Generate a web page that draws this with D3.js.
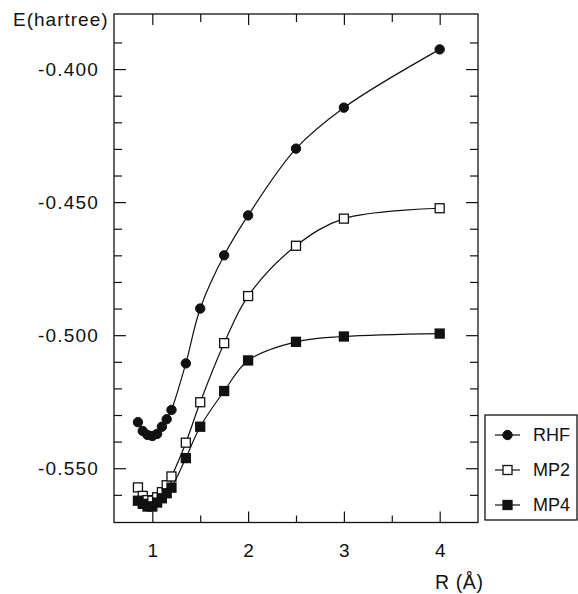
<!DOCTYPE html>
<html>
<head>
<meta charset="utf-8">
<script src="https://cdn.jsdelivr.net/npm/d3@7"></script>
<style>
  body { margin: 0; background: #fff; }
  text { font-family: "Liberation Sans", Arial, Helvetica, sans-serif; fill: #111; }
</style>
</head>
<body>
<div id="chart"></div>
<script>
// bond length R (Å)
const rhfR = [0.85, 0.9, 0.95, 1.0, 1.05, 1.1, 1.15, 1.2, 1.35, 1.5, 1.75, 2.0, 2.5, 3.0, 4.0];
const rhfE = [-0.5327, -0.5360, -0.5375, -0.5379, -0.5371, -0.5344, -0.5316, -0.5281, -0.5106, -0.4900, -0.4700, -0.4550, -0.4299, -0.4145, -0.3926];

const mp2R = [0.85, 0.9, 0.95, 1.0, 1.05, 1.1, 1.15, 1.2, 1.35, 1.5, 1.75, 2.0, 2.5, 3.0, 4.0];
const mp2E = [-0.5572, -0.5604, -0.5620, -0.5622, -0.5609, -0.5590, -0.5564, -0.5531, -0.5404, -0.5252, -0.5030, -0.4853, -0.4664, -0.4562, -0.4523];

const mp4R = [0.85, 0.9, 0.95, 1.0, 1.05, 1.1, 1.15, 1.2, 1.35, 1.5, 1.75, 2.0, 2.5, 3.0, 4.0];
const mp4E = [-0.5622, -0.5634, -0.5644, -0.5644, -0.5629, -0.5613, -0.5594, -0.5573, -0.5462, -0.5344, -0.5210, -0.5095, -0.5025, -0.5005, -0.4994];

const xMajor = [1, 2, 3, 4];
const xMinor = [1.5, 2.5, 3.5];
const yMajor = [-0.55, -0.50, -0.45, -0.40];
const yMinor = [-0.56, -0.54, -0.53, -0.52, -0.51, -0.49, -0.48, -0.47, -0.46, -0.44, -0.43, -0.42, -0.41, -0.39];

const series = [
  { name: 'RHF', R: rhfR, E: rhfE, symbol: 'circle', fill: '#111' },
  { name: 'MP2', R: mp2R, E: mp2E, symbol: 'square', fill: '#fff' },
  { name: 'MP4', R: mp4R, E: mp4E, symbol: 'square', fill: '#111' }
];

const width = 578, height = 594;
const plot = { left: 114, right: 478, top: 14, bottom: 522.5 };

const svg = d3.select('#chart').append('svg')
  .attr('width', width)
  .attr('height', height);

const x = d3.scaleLinear().domain([0.6, 4.4]).range([plot.left, plot.right]);
const y = d3.scaleLinear().domain([-0.5704, -0.3793]).range([plot.bottom, plot.top]);

// frame
svg.append('rect')
  .attr('x', plot.left).attr('y', plot.top)
  .attr('width', plot.right - plot.left)
  .attr('height', plot.bottom - plot.top)
  .attr('fill', 'none')
  .attr('stroke', '#111')
  .attr('stroke-width', 1.3);

function styleAxis(g) {
  g.select('.domain').remove();
  g.selectAll('line').attr('stroke', '#111').attr('stroke-width', 1.2);
  g.selectAll('text').attr('font-size', 19).attr('fill', '#111')
    .attr('font-family', '"Liberation Sans", Arial, sans-serif');
}

// left axis, inward ticks
svg.append('g').attr('transform', `translate(${plot.left},0)`)
  .call(d3.axisLeft(y).tickValues(yMajor).tickSize(-12).tickPadding(15)
    .tickFormat(d => d.toFixed(3)))
  .call(styleAxis)
  .selectAll('text').attr('letter-spacing', 1.2);
svg.append('g').attr('transform', `translate(${plot.left},0)`)
  .call(d3.axisLeft(y).tickValues(yMinor).tickSize(-8).tickFormat(''))
  .call(styleAxis);

// right axis
svg.append('g').attr('transform', `translate(${plot.right},0)`)
  .call(d3.axisRight(y).tickValues(yMajor).tickSize(-12).tickFormat(''))
  .call(styleAxis);
svg.append('g').attr('transform', `translate(${plot.right},0)`)
  .call(d3.axisRight(y).tickValues(yMinor).tickSize(-8).tickFormat(''))
  .call(styleAxis);

// bottom axis
svg.append('g').attr('transform', `translate(0,${plot.bottom})`)
  .call(d3.axisBottom(x).tickValues(xMajor).tickSize(-11).tickPadding(21)
    .tickFormat(d3.format('d')))
  .call(styleAxis);
svg.append('g').attr('transform', `translate(0,${plot.bottom})`)
  .call(d3.axisBottom(x).tickValues(xMinor).tickSize(-7).tickFormat(''))
  .call(styleAxis);

// top axis
svg.append('g').attr('transform', `translate(0,${plot.top})`)
  .call(d3.axisTop(x).tickValues(xMajor).tickSize(-11).tickFormat(''))
  .call(styleAxis);
svg.append('g').attr('transform', `translate(0,${plot.top})`)
  .call(d3.axisTop(x).tickValues(xMinor).tickSize(-8).tickFormat(''))
  .call(styleAxis);

// axis titles
svg.append('text')
  .attr('x', 13).attr('y', 26)
  .attr('font-size', 19)
  .attr('letter-spacing', 1)
  .text('E(hartree)');

svg.append('text')
  .attr('x', 435).attr('y', 589)
  .attr('font-size', 19.5)
  .attr('letter-spacing', 0.6)
  .text('R (Å)');

// curves
const line = d3.line()
  .x(d => x(d[0]))
  .y(d => y(d[1]))
  .curve(d3.curveCatmullRom.alpha(0.5));

function drawMarker(g, s, cx, cy) {
  if (s.symbol === 'circle') {
    g.append('circle')
      .attr('cx', cx).attr('cy', cy).attr('r', 4.7)
      .attr('fill', s.fill).attr('stroke', '#111').attr('stroke-width', 1);
  } else {
    g.append('rect')
      .attr('x', cx - 4.5).attr('y', cy - 4.5)
      .attr('width', 9).attr('height', 9)
      .attr('fill', s.fill).attr('stroke', '#111').attr('stroke-width', 1.3);
  }
}

series.forEach(s => {
  const pts = s.R.map((r, i) => [r, s.E[i]]);
  svg.append('path')
    .datum(pts)
    .attr('d', line)
    .attr('fill', 'none')
    .attr('stroke', '#111')
    .attr('stroke-width', 1.2);
  const g = svg.append('g');
  pts.forEach(p => drawMarker(g, s, x(p[0]), y(p[1])));
});

// legend
const legend = svg.append('g');
legend.append('rect')
  .attr('x', 485).attr('y', 415)
  .attr('width', 92).attr('height', 105)
  .attr('fill', '#fff')
  .attr('stroke', '#111')
  .attr('stroke-width', 1.3);

series.forEach((s, i) => {
  const ly = 435 + i * 35;
  legend.append('line')
    .attr('x1', 495).attr('x2', 520)
    .attr('y1', ly).attr('y2', ly)
    .attr('stroke', '#111').attr('stroke-width', 1.2);
  drawMarker(legend, s, 507.5, ly);
  legend.append('text')
    .attr('x', 533).attr('y', ly)
    .attr('dy', '0.36em')
    .attr('font-size', 18)
    .text(s.name);
});
</script>
</body>
</html>
